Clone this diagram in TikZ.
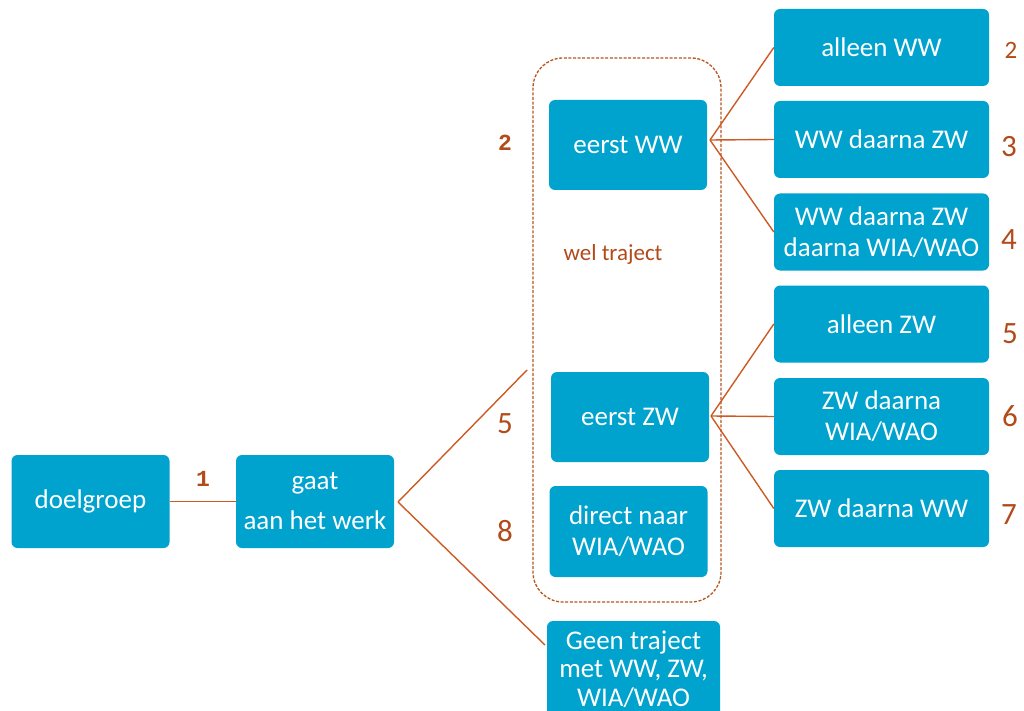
\documentclass[tikz,border=0pt]{standalone}
\usepackage{fontspec}
\setmainfont{Carlito}
\newfontfamily\monofont{Liberation Mono}
\usepackage{xcolor}
\usepackage{tikz}
\usetikzlibrary{positioning, calc}
\definecolor{boxblue}{HTML}{00A2CE}
\definecolor{linecol}{HTML}{CC5A24}
\definecolor{numcol}{HTML}{B24A1A}
\definecolor{groupcol}{HTML}{B5551F}

\begin{document}
\begin{tikzpicture}[
  x=1pt, y=-1pt,
  box/.style={rectangle, rounded corners=6pt, fill=boxblue, text=white,
              align=center, inner sep=0pt, font=\fontsize{27}{31}\selectfont},
  leftbox/.style={box, minimum width=158pt, minimum height=93pt},
  midbox/.style={box, minimum width=158pt, minimum height=90pt},
  rightbox/.style={box, minimum width=215pt, minimum height=77pt},
  link/.style={draw=linecol, line width=1.4pt},
  num/.style={text=numcol, font=\fontsize{31}{31}\selectfont},
  monolabel/.style={text=numcol, font=\monofont\bfseries\fontsize{23}{23}\selectfont},
]
  \useasboundingbox (0,0) rectangle (1024,711);
  \clip (0,0) rectangle (1024,711);

  % group with a trajectory
  \node[draw=groupcol, dash pattern=on 3pt off 1.6pt, line width=1.3pt, rounded corners=30pt,
        minimum width=188pt, minimum height=544pt] (wel) at (627,330) {};
  \node[text=numcol, font=\fontsize{23}{23}\selectfont] (weltxt) at (613,254) {wel traject};

  % left side
  \node[leftbox] (doel) at (90.5,501.5) {doelgroep};
  \node[leftbox, font=\fontsize{27}{40}\selectfont] (gaat) at (315,501.5) {gaat\\aan het werk};

  % middle column
  \node[midbox] (ww) at (628,145) {eerst WW};
  \node[midbox] (zw) at (630,417) {eerst ZW};
  \node[midbox, minimum height=91pt] (direct) at (628.5,531.5) {direct naar\\WIA/WAO};
  \node[box, minimum width=173pt, minimum height=96pt, font=\fontsize{27}{28.5}\selectfont]
    (geen) at (633.5,669) {Geen traject\\met WW, ZW,\\WIA/WAO};

  % right column
  \node[rightbox] (aww) at (881.5,47.5) {alleen WW};
  \node[rightbox] (wwzw) at (881.5,139.5) {WW daarna ZW};
  \node[rightbox] (wwwia) at (881.5,232) {WW daarna ZW\\daarna WIA/WAO};
  \node[rightbox] (azw) at (881.5,324) {alleen ZW};
  \node[rightbox] (zwwia) at (881.5,416.5) {ZW daarna\\WIA/WAO};
  \node[rightbox] (zwww) at (881.5,508.5) {ZW daarna WW};

  % numbers
  \node[monolabel] (n1) at (203,479) {1};
  \node[monolabel] (n2a) at (505,143) {2};
  \node[num] (n5a) at (505,424) {5};
  \node[num] (n8) at (505,531) {8};
  \node[num, font=\fontsize{25}{25}\selectfont] (n2b) at (1011,50) {2};
  \node[num] (n3) at (1009,147) {3};
  \node[num] (n4) at (1009,240) {4};
  \node[num] (n5b) at (1010,334) {5};
  \node[num] (n6) at (1010,416) {6};
  \node[num] (n7) at (1009,515) {7};

  % connectors
  \coordinate (gaatfork) at (398,502);
  \coordinate (welin) at (527,370);
  \coordinate (geenin) at (545,645);
  \coordinate (wwfork) at (710,140);
  \coordinate (zwfork) at (711,416);
  \draw[link] (doel) -- (gaat);
  \draw[link] (gaatfork) -- (welin);
  \draw[link] (gaatfork) -- (geenin);
  \foreach \to in {aww, wwzw, wwwia} {
    \draw[link] (wwfork) -- (\to.west);
  }
  \foreach \to in {azw, zwwia, zwww} {
    \draw[link] (zwfork) -- (\to.west);
  }
\end{tikzpicture}
\end{document}
